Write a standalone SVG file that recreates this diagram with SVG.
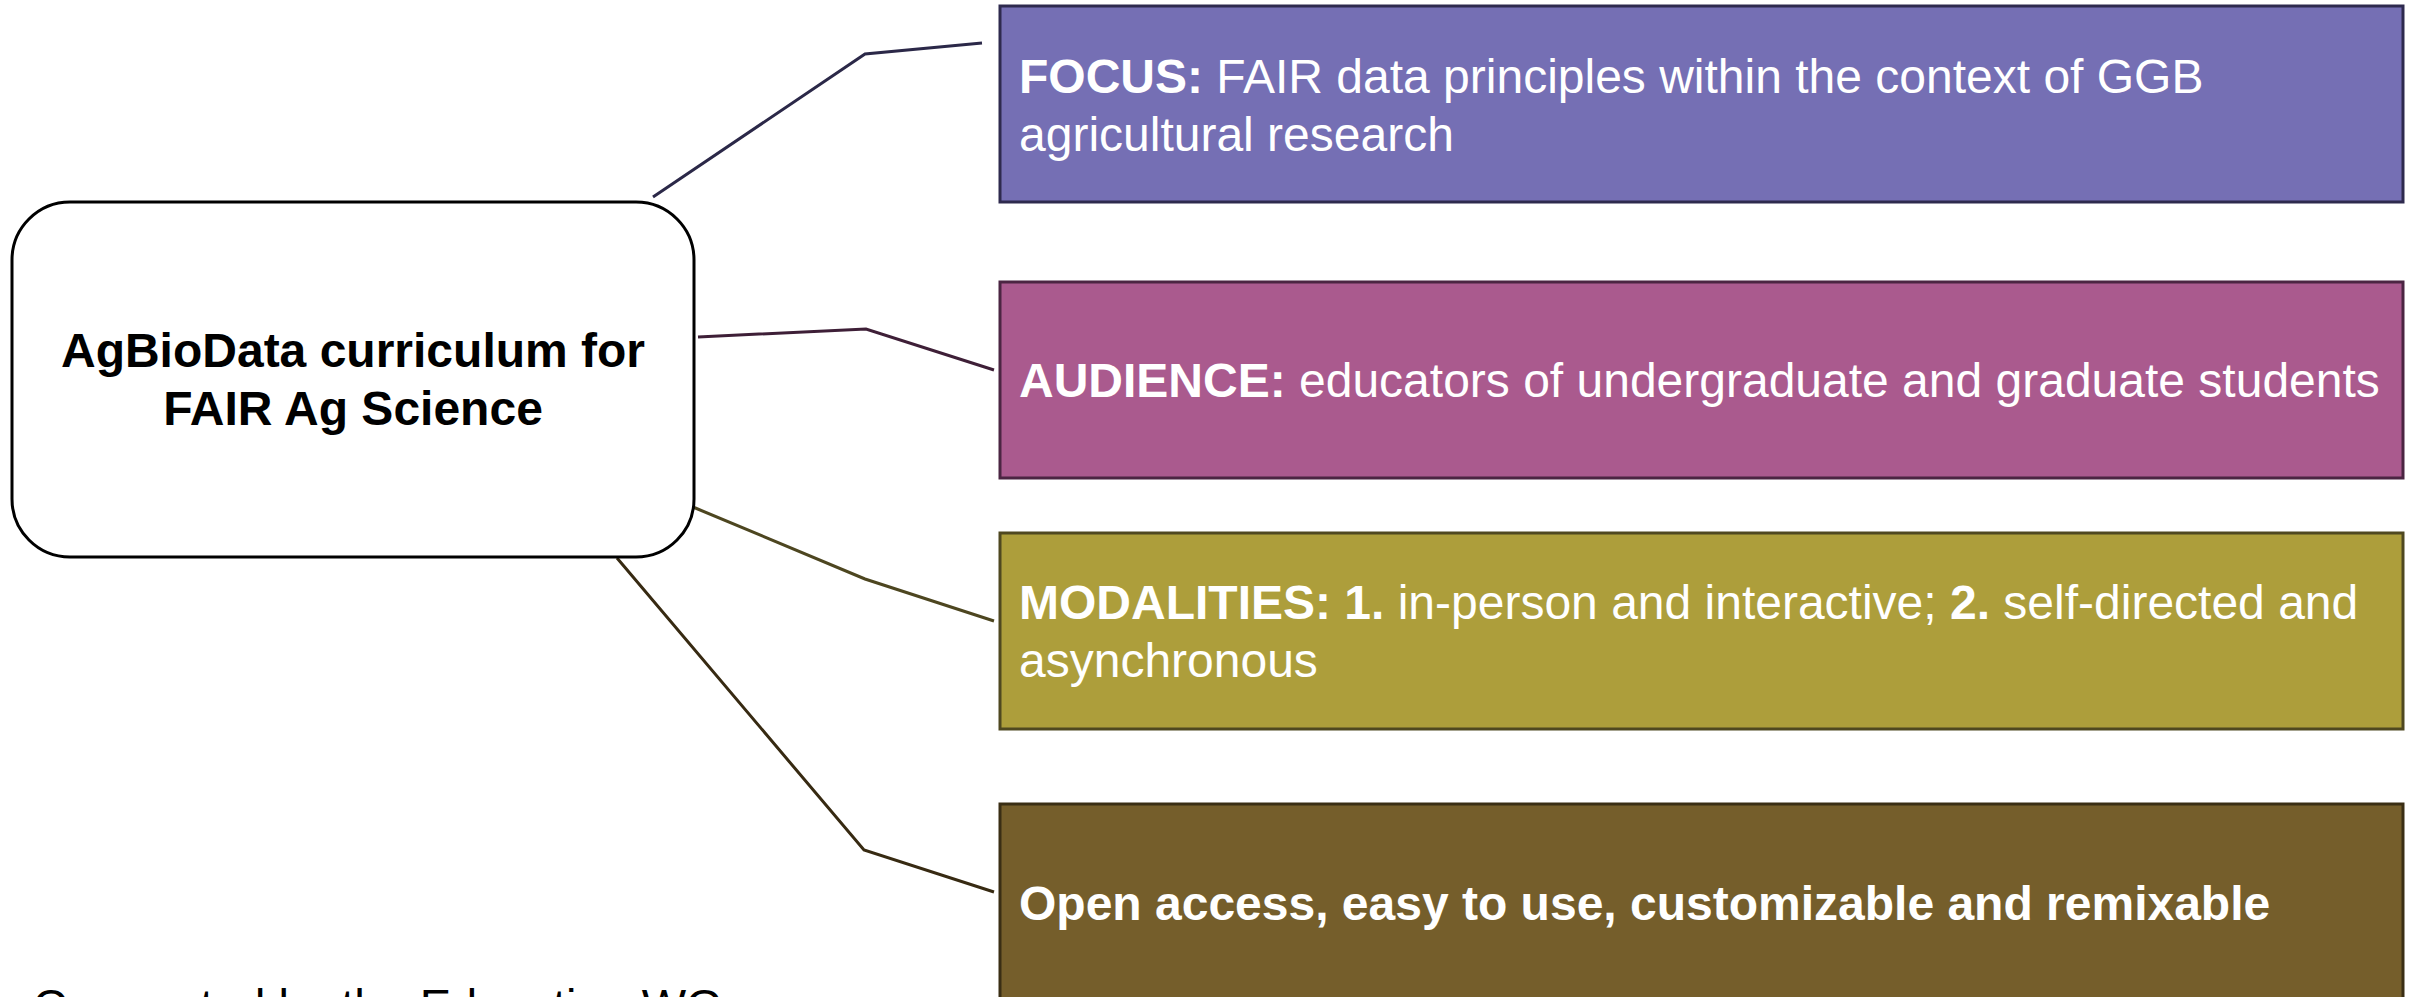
<svg xmlns="http://www.w3.org/2000/svg" width="2417" height="997" viewBox="0 0 2417 997">
  <style>
    .hub { fill: #ffffff; stroke: #000000; stroke-width: 3; }
    .hub-label { font-family: "Liberation Sans", Arial, sans-serif; font-size: 48px; font-weight: bold; fill: #000000; text-anchor: middle; }
    .card { stroke-width: 3; }
    .card-label { font-family: "Liberation Sans", Arial, sans-serif; font-size: 48px; fill: #ffffff; }
    .b { font-weight: bold; }
    .link { fill: none; stroke-width: 3; stroke-linejoin: miter; }
    .note { font-family: "Liberation Sans", Arial, sans-serif; font-size: 47px; fill: #000000; }
  </style>

  <rect width="2417" height="997" fill="#ffffff"/>

  <!-- connectors from the hub to each card -->
  <g id="connectors">
    <polyline class="link" stroke="#2b2848" points="653,197 865,54 982,43"/>
    <polyline class="link" stroke="#3e1f37" points="698,337 866,329 994,370"/>
    <polyline class="link" stroke="#4d4620" points="693,507 865,579 994,621"/>
    <polyline class="link" stroke="#372a12" points="617,558 864,850 994,892"/>
  </g>

  <!-- central hub -->
  <g id="hub">
    <rect class="hub" x="12" y="202" width="682" height="355" rx="58" ry="58"/>
    <text class="hub-label" x="353" y="367">AgBioData curriculum for</text>
    <text class="hub-label" x="353" y="425">FAIR Ag Science</text>
  </g>

  <!-- focus card -->
  <g id="focus">
    <rect class="card" x="1000" y="6" width="1403" height="196" fill="#756fb4" stroke="#2e2a4e"/>
    <text class="card-label" x="1019" y="93"><tspan class="b">FOCUS:</tspan> FAIR data principles within the context of GGB</text>
    <text class="card-label" x="1019" y="151">agricultural research</text>
  </g>

  <!-- audience card -->
  <g id="audience">
    <rect class="card" x="1000" y="282" width="1403" height="196" fill="#aa5a8e" stroke="#4b2542"/>
    <text class="card-label" x="1019" y="397"><tspan class="b">AUDIENCE:</tspan> educators of undergraduate and graduate students</text>
  </g>

  <!-- modalities card -->
  <g id="modalities">
    <rect class="card" x="1000" y="533" width="1403" height="196" fill="#ad9e3b" stroke="#4f4820"/>
    <text class="card-label" x="1019" y="619"><tspan class="b">MODALITIES: 1.</tspan> in-person and interactive; <tspan class="b">2.</tspan> self-directed and</text>
    <text class="card-label" x="1019" y="677">asynchronous</text>
  </g>

  <!-- open access card -->
  <g id="open-access">
    <rect class="card" x="1000" y="804" width="1403" height="200" fill="#755e2b" stroke="#3a2e14"/>
    <text class="card-label b" x="1019" y="920">Open access, easy to use, customizable and remixable</text>
  </g>

  <!-- footer credit, running off the lower edge of the page -->
  <g id="credit">
    <text class="note" x="33" y="1022">Co-created by the Education WG</text>
  </g>
</svg>
